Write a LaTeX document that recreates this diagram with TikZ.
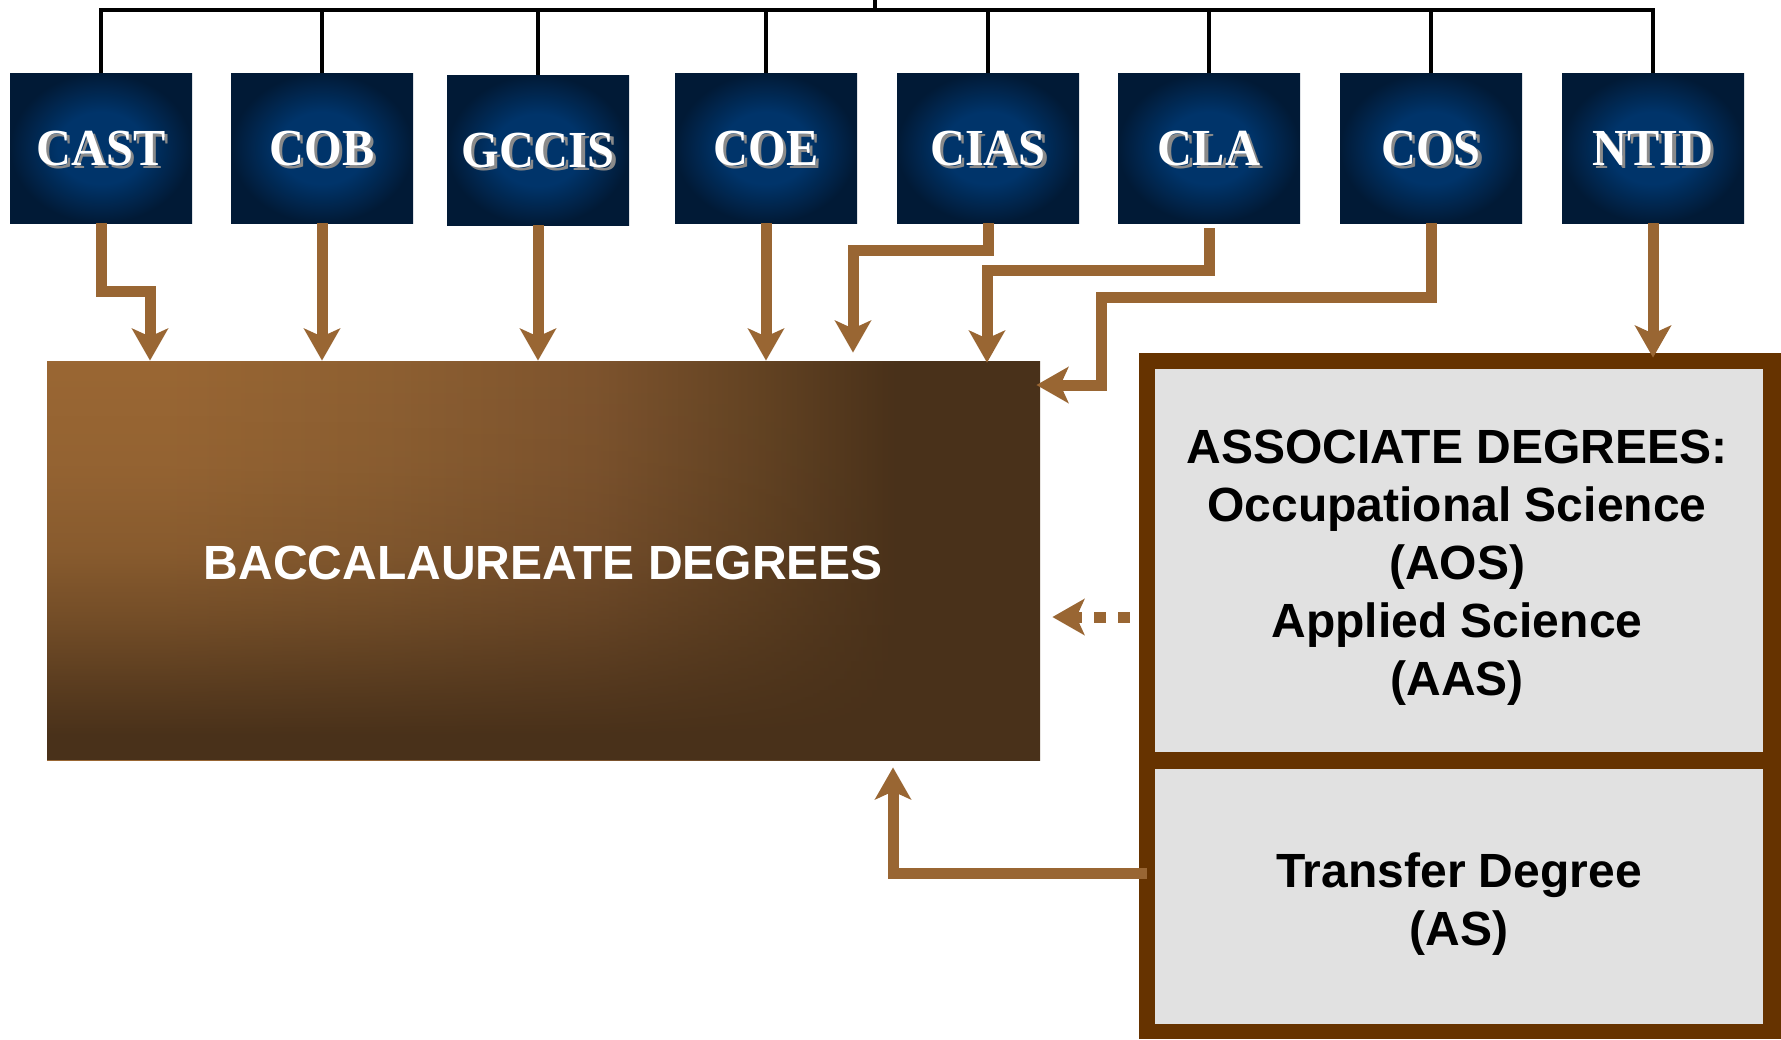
\documentclass[tikz,border=0pt]{standalone}
\usepackage{fontspec}
\usepackage{graphicx}
\setmainfont{Liberation Sans}
\newfontfamily\serifbold{Liberation Serif}
\usetikzlibrary{arrows.meta,fadings,calc}
\definecolor{navyin}{HTML}{00346A}
\definecolor{navyout}{HTML}{011A36}
\definecolor{arrowbrown}{HTML}{996633}
\definecolor{framebrown}{HTML}{663300}
\definecolor{panelgrey}{HTML}{E1E1E1}
\definecolor{bacclight}{HTML}{9A6734}
\definecolor{baccmidA}{HTML}{8E6032}
\definecolor{baccmidB}{HTML}{7E542E}
\definecolor{baccmidC}{HTML}{634323}
\definecolor{baccdark}{HTML}{49311A}
\definecolor{shadowgrey}{HTML}{8A8A8A}
\pgfdeclareradialshading{navyglow}{\pgfpoint{0bp}{0bp}}{color(0bp)=(navyin); color(12bp)=(navyin); color(25bp)=(navyout); color(50bp)=(navyout)}
\pgfdeclarehorizontalshading{baccH}{100bp}{color(0bp)=(bacclight); color(30.7bp)=(bacclight); color(42bp)=(baccmidA); color(52.5bp)=(baccmidB); color(61bp)=(baccmidC); color(68bp)=(baccdark); color(100bp)=(baccdark)}
\pgfdeclareverticalshading{baccfadeshade}{100bp}{color(0bp)=(white); color(28bp)=(white); color(34bp)=(black!20); color(42.5bp)=(black!52); color(51bp)=(black!78); color(62bp)=(black!93); color(75bp)=(black); color(100bp)=(black)}
\pgfdeclarefading{baccfade}{\pgfuseshading{baccfadeshade}}
\newcommand\shadowlabel[1]{\scalebox{0.93}[1]{\rlap{\kern1.8pt\raisebox{-1.6pt}{\textcolor{shadowgrey}{#1}}}#1}}
\begin{document}
\begin{tikzpicture}[x=0.5pt,y=-0.5pt,
  college/.style={minimum width=91pt, minimum height=75pt, inner sep=0pt, shading=navyglow, text=white,
    text height=19pt, text depth=2pt,
    font=\serifbold\bfseries\fontsize{26}{26}\selectfont},
  baccbox/.style={minimum width=496.5pt, minimum height=199.5pt, inner sep=0pt, text=white,
    text height=18.7pt, text depth=0pt,
    font=\bfseries\fontsize{24}{24}\selectfont,
    path picture={
      \shade[shading=baccH] (path picture bounding box.south west) rectangle (path picture bounding box.north east);
      \fill[baccdark, path fading=baccfade] (path picture bounding box.south west) rectangle (path picture bounding box.north east);
    }},
  framebox/.style={fill=framebrown, inner sep=0pt, minimum width=321pt, minimum height=343pt},
  panel/.style={fill=panelgrey, inner sep=0pt, minimum width=304pt},
  paneltext/.style={align=center, inner sep=0pt, font=\bfseries\fontsize{24}{29}\selectfont},
  tree/.style={line width=2.3pt, black},
  arr/.style={line width=5.5pt, arrowbrown, -{Stealth[length=16pt,width=18pt,inset=4pt]}},
  dotarr/.style={arr, dash pattern=on 6pt off 6pt, dash phase=7.5pt}
]
\useasboundingbox (0,0) rectangle (1781,1039);

% college boxes
\node[college] (cast)  at (101,148)  {\shadowlabel{CAST}};
\node[college] (cob)   at (322,148)  {\shadowlabel{COB}};
\node[college] (gccis) at (538,150)  {\shadowlabel{GCCIS}};
\node[college] (coe)   at (766,148)  {\shadowlabel{COE}};
\node[college] (cias)  at (988,148)  {\shadowlabel{CIAS}};
\node[college] (cla)   at (1209,148) {\shadowlabel{CLA}};
\node[college] (cos)   at (1431,148) {\shadowlabel{COS}};
\node[college] (ntid)  at (1653,148) {\shadowlabel{NTID}};

% tree on top
\coordinate (stem) at (875,0);
\coordinate (bar) at (875,10);
\draw[tree] (stem) -- (bar);
\draw[tree] (cast.north) |- (bar) -| (ntid.north);
\foreach \n in {cob,gccis,coe,cias,cla,cos}
  \draw[tree] (\n.north) -- (\n.north |- bar);

% baccalaureate box
\node[baccbox] (bacc) at (543.5,560.5) {BACCALAUREATE DEGREES};

% associate frame and panels
\node[framebox] (frame) at (1460,696) {};
\node[panel, minimum height=191.5pt] (assoc) at (1459,560.5) {};
\node[panel, minimum height=127.5pt] (transfer) at (1459,896.5) {};
\node[paneltext] (assoctext) at (1457,568) {ASSOCIATE DEGREES:\\Occupational Science\\(AOS)\\Applied Science\\(AAS)};
\node[paneltext] (transfertext) at (1459,904) {Transfer Degree\\(AS)};

% arrows
\draw[arr] (cast.south) |- (150,291) -- (150,0 |- bacc.north);
\draw[arr] (cob.south) -- (cob.south |- bacc.north);
\draw[arr] (gccis.south) -- (gccis.south |- bacc.north);
\draw[arr] (coe.south) -- (coe.south |- bacc.north);
\draw[arr, shorten >=4pt] (cias.south) |- (853,250) -- (853,0 |- bacc.north);
\draw[arr, shorten <=2.5pt, shorten >=-1pt] (cla.south) |- (987,270) -- (987,0 |- bacc.north);
\draw[arr, shorten >=-2pt] (cos.south) |- (1101,297) |- (bacc.east |- 0,385);
\draw[arr, shorten >=-2.5pt] (ntid.south) -- (ntid.south |- frame.north);
\draw[dotarr, shorten >=6pt] (frame.west |- 0,617) -- (bacc.east |- 0,617);
\draw[arr, shorten <=-4pt, shorten >=3.5pt] (frame.west |- 0,873) -| (893,0 |- bacc.south);
\end{tikzpicture}
\end{document}
